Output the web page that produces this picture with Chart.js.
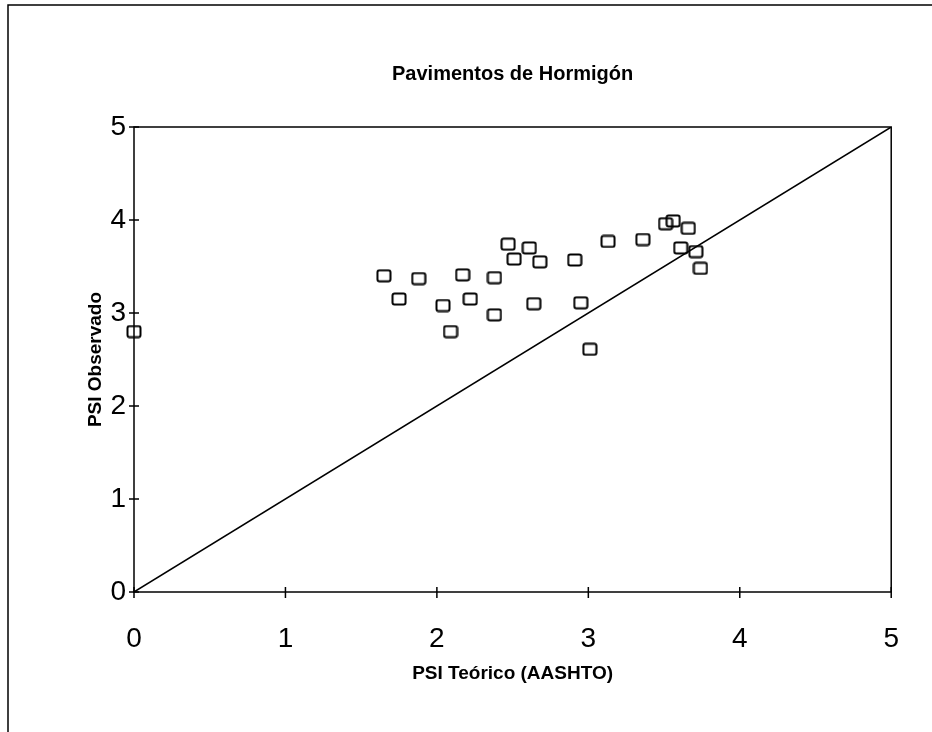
<!DOCTYPE html>
<html>
<head>
<meta charset="utf-8">
<title>Pavimentos de Hormigón</title>
<script src="https://cdn.jsdelivr.net/npm/chart.js@4/dist/chart.umd.min.js"></script>
<style>
  body { margin: 0; background: #fff; }
  canvas { display: block; }
</style>
</head>
<body>
<canvas id="myChart" width="932" height="732"></canvas>
<script>
// values
const psiTeorico = [0.00, 1.65, 1.75, 1.88, 2.04, 2.09, 2.17, 2.22, 2.38, 2.38, 2.47, 2.51, 2.61, 2.64, 2.68, 2.91, 2.95, 3.01, 3.13, 3.36, 3.51, 3.56, 3.61, 3.66, 3.71, 3.74];
const psiObservado = [2.80, 3.40, 3.15, 3.37, 3.08, 2.80, 3.41, 3.15, 3.38, 2.98, 3.74, 3.58, 3.70, 3.10, 3.55, 3.57, 3.11, 2.61, 3.77, 3.79, 3.96, 3.99, 3.70, 3.91, 3.66, 3.48];
const lineX = [0, 5];
const lineY = [0, 5];
const tickValues = [0, 1, 2, 3, 4, 5];

const fontFamily = "'Liberation Sans', Arial, sans-serif";

// hollow square marker, a bit wider than tall
function makeMarker() {
    const c = document.createElement('canvas');
    c.width = 16;
    c.height = 14;
    const g = c.getContext('2d');
    g.strokeStyle = '#000';
    g.lineWidth = 2;
    g.beginPath();
    g.roundRect(1.5, 1.5, 13, 11, 2);
    g.stroke();
    return c;
}

const points = psiTeorico.map((x, i) => ({x: x, y: psiObservado[i]}));
const diagonal = lineX.map((x, i) => ({x: x, y: lineY[i]}));

const frame = {
    id: 'frame',
    beforeDraw(chart) {
        const ctx = chart.ctx;
        ctx.save();
        ctx.strokeStyle = '#000';
        ctx.lineWidth = 1.5;
        ctx.beginPath();
        ctx.moveTo(8, 732);
        ctx.lineTo(8, 5);
        ctx.lineTo(932, 5);
        ctx.stroke();
        ctx.restore();
    },
    afterDatasetsDraw(chart) {
        const {ctx, chartArea: a, scales} = chart;
        ctx.save();
        ctx.strokeStyle = '#000';
        ctx.lineWidth = 1.5;
        ctx.strokeRect(a.left, a.top, a.right - a.left, a.bottom - a.top);
        ctx.beginPath();
        tickValues.forEach(v => {
            const py = scales.y.getPixelForValue(v);
            ctx.moveTo(a.left - 5, py);
            ctx.lineTo(a.left + 5, py);
            const px = scales.x.getPixelForValue(v);
            ctx.moveTo(px, a.bottom - 5);
            ctx.lineTo(px, a.bottom + 6);
        });
        ctx.stroke();
        ctx.restore();
    }
};

const ctx = document.getElementById('myChart').getContext('2d');
const myChart = new Chart(ctx, {
    type: 'scatter',
    data: {
        datasets: [{
            label: 'PSI',
            data: points,
            pointStyle: makeMarker(),
            pointRadius: 7,
            pointHoverRadius: 7,
            clip: false
        }, {
            label: 'Igualdad',
            data: diagonal,
            showLine: true,
            borderColor: '#000',
            borderWidth: 1.5,
            pointRadius: 0
        }]
    },
    options: {
        responsive: false,
        animation: false,
        layout: {
            padding: {left: 0, right: 36, top: 0, bottom: 0}
        },
        scales: {
            x: {
                type: 'linear',
                min: 0,
                max: 5,
                afterFit: (scale) => { scale.height = 140; },
                afterBuildTicks: (scale) => { scale.ticks = tickValues.map(v => ({value: v})); },
                grid: {display: false, drawTicks: false},
                border: {display: false},
                ticks: {
                    color: '#000',
                    padding: 33,
                    font: {family: fontFamily, size: 28, lineHeight: 1}
                },
                title: {
                    display: true,
                    text: 'PSI Teórico (AASHTO)',
                    color: '#000',
                    padding: {top: 0, bottom: 47},
                    font: {family: fontFamily, size: 19, weight: 'bold', lineHeight: 1.2}
                }
            },
            y: {
                type: 'linear',
                min: 0,
                max: 5,
                afterFit: (scale) => { scale.width = 134; },
                afterBuildTicks: (scale) => { scale.ticks = tickValues.map(v => ({value: v})); },
                grid: {display: false, drawTicks: false},
                border: {display: false},
                ticks: {
                    color: '#000',
                    padding: 8,
                    font: {family: fontFamily, size: 28, lineHeight: 1}
                },
                title: {
                    display: true,
                    text: 'PSI Observado',
                    color: '#000',
                    padding: {top: 84, bottom: 0},
                    font: {family: fontFamily, size: 19, weight: 'bold', lineHeight: 1.2}
                }
            }
        },
        plugins: {
            legend: {display: false},
            tooltip: {enabled: false},
            title: {
                display: true,
                fullSize: false,
                text: 'Pavimentos de Hormigón',
                color: '#000',
                padding: {top: 62, bottom: 41},
                font: {family: fontFamily, size: 20, weight: 'bold', lineHeight: 1.2}
            }
        }
    },
    plugins: [frame]
});
</script>
</body>
</html>
